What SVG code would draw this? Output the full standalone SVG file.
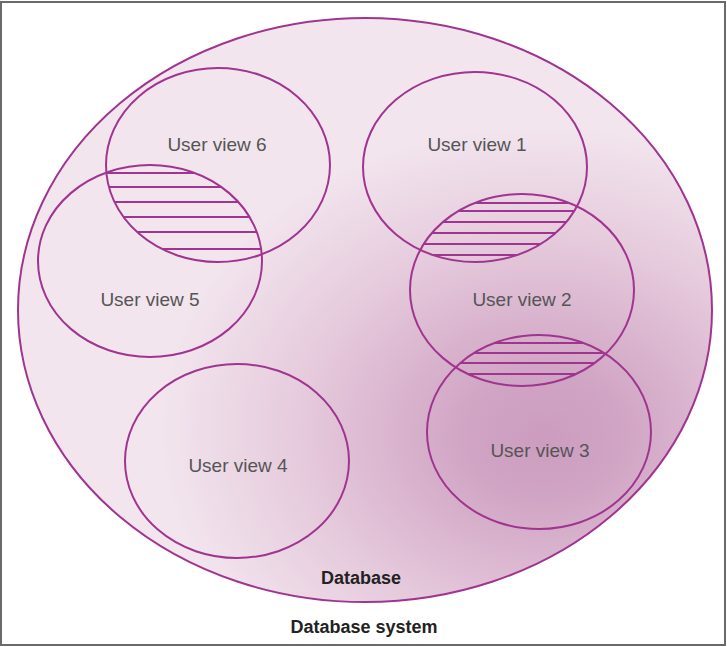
<svg xmlns="http://www.w3.org/2000/svg" width="727" height="647" viewBox="0 0 727 647">
  <style>
    .view { fill: none; stroke: #a03590; stroke-width: 2; }
    .hatch line { stroke: #a03590; stroke-width: 2; }
    .label { font-family: "Liberation Sans", Arial, sans-serif; font-size: 19px; fill: #555; text-anchor: middle; }
    .title { font-family: "Liberation Sans", Arial, sans-serif; font-size: 18px; font-weight: bold; fill: #222; text-anchor: middle; }
  </style>
  <defs>
    <radialGradient id="dbFill" gradientUnits="userSpaceOnUse" cx="540" cy="430" r="380" fx="545" fy="440" gradientTransform="translate(540 430) scale(1 0.8) translate(-540 -430)">
      <stop offset="0" stop-color="#cc9cbf"/>
      <stop offset="0.2" stop-color="#d0a4c4"/>
      <stop offset="0.4" stop-color="#dab5cf"/>
      <stop offset="0.65" stop-color="#e6cbdd"/>
      <stop offset="1" stop-color="#f2e5ee"/>
    </radialGradient>
    <clipPath id="cv1"><ellipse cx="475" cy="167" rx="112" ry="95"/></clipPath>
    <clipPath id="cv2"><ellipse cx="522" cy="290" rx="112" ry="96"/></clipPath>
    <clipPath id="cv3"><ellipse cx="539" cy="432" rx="112" ry="97"/></clipPath>
    <clipPath id="cv5"><ellipse cx="150" cy="261" rx="112" ry="96"/></clipPath>
    <clipPath id="cv6"><ellipse cx="218" cy="165" rx="112" ry="97"/></clipPath>
  </defs>

  <!-- page frame -->
  <rect x="1" y="2" width="724" height="643" fill="#fff" stroke="#6a6a6a" stroke-width="2"/>

  <!-- database -->
  <g id="database">
    <ellipse cx="365" cy="310" rx="347" ry="292" fill="url(#dbFill)" stroke="#a03590" stroke-width="2"/>
    <text class="title" x="361" y="584">Database</text>
  </g>

  <!-- shared data between overlapping views -->
  <g id="overlaps">
    <g clip-path="url(#cv6)"><g class="hatch" clip-path="url(#cv5)">
      <line x1="30" y1="173" x2="340" y2="173"/>
      <line x1="30" y1="187" x2="340" y2="187"/>
      <line x1="30" y1="202" x2="340" y2="202"/>
      <line x1="30" y1="217" x2="340" y2="217"/>
      <line x1="30" y1="232" x2="340" y2="232"/>
      <line x1="30" y1="249" x2="340" y2="249"/>
    </g></g>
    <g clip-path="url(#cv1)"><g class="hatch" clip-path="url(#cv2)">
      <line x1="400" y1="203" x2="650" y2="203"/>
      <line x1="400" y1="211" x2="650" y2="211"/>
      <line x1="400" y1="222" x2="650" y2="222"/>
      <line x1="400" y1="233" x2="650" y2="233"/>
      <line x1="400" y1="244" x2="650" y2="244"/>
      <line x1="400" y1="255" x2="650" y2="255"/>
    </g></g>
    <g clip-path="url(#cv2)"><g class="hatch" clip-path="url(#cv3)">
      <line x1="400" y1="343" x2="660" y2="343"/>
      <line x1="400" y1="353" x2="660" y2="353"/>
      <line x1="400" y1="363" x2="660" y2="363"/>
      <line x1="400" y1="374" x2="660" y2="374"/>
    </g></g>
  </g>

  <g id="user-view-6">
    <ellipse class="view" cx="218" cy="165" rx="112" ry="97"/>
    <text class="label" x="217" y="151">User view 6</text>
  </g>
  <g id="user-view-5">
    <ellipse class="view" cx="150" cy="261" rx="112" ry="96"/>
    <text class="label" x="150" y="306">User view 5</text>
  </g>
  <g id="user-view-1">
    <ellipse class="view" cx="475" cy="167" rx="112" ry="95"/>
    <text class="label" x="477" y="151">User view 1</text>
  </g>
  <g id="user-view-2">
    <ellipse class="view" cx="522" cy="290" rx="112" ry="96"/>
    <text class="label" x="522" y="306">User view 2</text>
  </g>
  <g id="user-view-3">
    <ellipse class="view" cx="539" cy="432" rx="112" ry="97"/>
    <text class="label" x="540" y="457">User view 3</text>
  </g>
  <g id="user-view-4">
    <ellipse class="view" cx="237" cy="461" rx="112" ry="97"/>
    <text class="label" x="238" y="472">User view 4</text>
  </g>

  <g id="connectors"/>

  <g id="database-system">
    <text class="title" x="364" y="633">Database system</text>
  </g>
</svg>
